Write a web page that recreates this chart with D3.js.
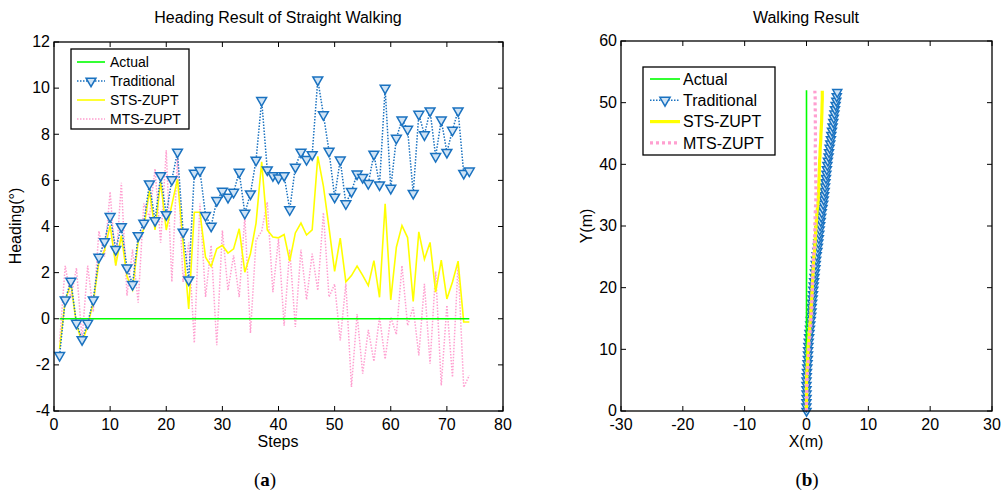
<!DOCTYPE html>
<html>
<head>
<meta charset="utf-8">
<script src="https://cdn.jsdelivr.net/npm/d3@7"></script>
<style>
  body { margin: 0; background: #fff; }
  svg { display: block; font-family: "Liberation Sans", Arial, sans-serif; }
</style>
</head>
<body>
<svg id="chart" width="1001" height="491"></svg>
<script>
// heading per step (degrees)
var steps = d3.range(1, 75);
var actualSteps = [1, 74];
var actualHeading = [0, 0];
var tradHeading = [-1.59,0.82,1.63,-0.19,-0.90,-0.19,0.82,2.67,3.35,4.44,
  3.01,4.00,2.21,1.49,3.61,4.15,5.85,4.26,6.21,4.52,
  6.03,7.23,3.76,1.69,6.32,6.43,4.48,4.02,5.13,5.53,
  5.27,5.49,6.36,4.58,5.42,6.88,9.47,6.46,6.21,6.11,
  6.21,4.73,6.58,7.23,6.91,7.12,10.36,8.85,7.27,5.28,
  6.89,4.99,5.52,6.28,6.13,5.87,7.14,5.81,10.00,5.66,
  7.83,8.62,8.22,5.44,8.87,7.98,9.02,7.04,8.62,7.22,
  8.18,9.02,6.31,6.41];
var stsHeading = [-1.30,0.79,1.52,-0.22,-1.05,-0.29,0.72,2.46,2.96,4.05,
  2.31,3.61,1.84,1.26,3.35,3.90,5.56,3.85,5.95,3.85,
  4.95,6.05,3.30,0.43,4.62,4.62,2.67,2.27,3.03,3.18,
  2.85,3.03,3.90,2.02,2.82,4.15,6.80,3.85,3.54,3.51,
  3.65,2.50,3.72,4.15,3.63,3.85,7.04,5.75,3.95,2.05,
  3.50,1.60,1.87,2.28,1.88,1.44,2.52,0.93,4.98,0.82,
  3.10,4.04,3.52,0.75,3.77,2.58,3.31,1.15,2.54,0.86,
  1.59,2.50,-0.14,-0.14];
var mtsHeading = [-1.00,2.30,0.90,2.20,-0.90,2.30,0.30,3.80,2.70,5.50,
  2.30,5.90,1.00,3.00,0.70,5.00,4.40,6.50,3.30,7.30,
  1.60,7.00,1.60,3.30,-1.05,5.00,0.94,3.18,-1.15,3.83,
  1.23,2.75,0.94,4.45,-0.62,3.40,3.80,5.06,1.15,3.47,
  -0.30,3.00,-0.35,3.00,0.83,2.82,1.23,4.60,0.94,1.50,
  -0.94,1.53,-2.96,0.20,-2.38,-0.48,-1.85,0.07,-1.75,0.07,
  -0.68,2.30,-0.29,0.50,-1.59,1.52,-1.95,2.05,-2.89,0.58,
  -2.53,2.38,-2.97,-2.45];

var xTicksA = [0, 10, 20, 30, 40, 50, 60, 70, 80];
var yTicksA = [-4, -2, 0, 2, 4, 6, 8, 10, 12];
var xTicksB = [-30, -20, -10, 0, 10, 20, 30];
var yTicksB = [0, 10, 20, 30, 40, 50, 60];

// walked distance along the corridor (m), panel (b)
var walkLength = 52;

var blue = "#1a72c0", blueFill = "#cfe3f5", green = "#00ff00", yellow = "#ffff00", pink = "#ff9fd0";

var svg = d3.select("#chart");

function frame(x, y, xTicks, yTicks) {
  var g = svg.append("g");
  var x0 = x.range()[0], x1 = x.range()[1], yb = y.range()[0], yt = y.range()[1];
  xTicks.forEach(function(t) {
    g.append("line").attr("x1", x(t)).attr("x2", x(t)).attr("y1", yb).attr("y2", yb - 5).attr("stroke", "#000");
    g.append("line").attr("x1", x(t)).attr("x2", x(t)).attr("y1", yt).attr("y2", yt + 5).attr("stroke", "#000");
    g.append("text").attr("x", x(t)).attr("y", yb + 19).attr("text-anchor", "middle")
      .attr("font-size", 16).text(t);
  });
  yTicks.forEach(function(t) {
    g.append("line").attr("x1", x0).attr("x2", x0 + 5).attr("y1", y(t)).attr("y2", y(t)).attr("stroke", "#000");
    g.append("line").attr("x1", x1).attr("x2", x1 - 5).attr("y1", y(t)).attr("y2", y(t)).attr("stroke", "#000");
    g.append("text").attr("x", x0 - 4).attr("y", y(t)).attr("dy", "0.33em").attr("text-anchor", "end")
      .attr("font-size", 16).text(t);
  });
  return g;
}

function box(x, y) {
  svg.append("rect").attr("x", x.range()[0]).attr("y", y.range()[1])
    .attr("width", x.range()[1] - x.range()[0]).attr("height", y.range()[0] - y.range()[1])
    .attr("fill", "none").attr("stroke", "#000").attr("stroke-width", 1.3);
}

var tri = function(size) { return d3.symbol(d3.symbolTriangle, size)(); };

function marker(g, px, py, size) {
  g.append("path").attr("d", tri(size))
    .attr("transform", "translate(" + px + "," + py + ") rotate(180)")
    .attr("fill", blueFill).attr("stroke", blue).attr("stroke-width", 1.5);
}

// ---------- panel (a) ----------
var xa = d3.scaleLinear().domain([0, 80]).range([54, 503]);
var ya = d3.scaleLinear().domain([-4, 12]).range([411, 42]);
frame(xa, ya, xTicksA, yTicksA);

var lineA = d3.line().x(function(d) { return xa(d[0]); }).y(function(d) { return ya(d[1]); });
var ga = svg.append("g");

ga.append("path").attr("d", lineA(d3.zip(steps, mtsHeading)))
  .attr("fill", "none").attr("stroke", pink).attr("stroke-width", 1.5).attr("stroke-dasharray", "1.5,1.5");
ga.append("path").attr("d", lineA(d3.zip(steps, stsHeading)))
  .attr("fill", "none").attr("stroke", yellow).attr("stroke-width", 1.6);
ga.append("path").attr("d", lineA(d3.zip(actualSteps, actualHeading)))
  .attr("fill", "none").attr("stroke", green).attr("stroke-width", 1.6);
ga.append("path").attr("d", lineA(d3.zip(steps, tradHeading)))
  .attr("fill", "none").attr("stroke", blue).attr("stroke-width", 1.5).attr("stroke-dasharray", "1.5,1.5");
steps.forEach(function(s, i) { marker(ga, xa(s), ya(tradHeading[i]), 42); });
box(xa, ya);

svg.append("text").attr("x", 278).attr("y", 23).attr("text-anchor", "middle").attr("font-size", 16)
  .text("Heading Result of Straight Walking");
svg.append("text").attr("x", 278).attr("y", 447).attr("text-anchor", "middle").attr("font-size", 16).text("Steps");
svg.append("text").attr("transform", "translate(21,226) rotate(-90)").attr("text-anchor", "middle")
  .attr("font-size", 16).text("Heading(°)");

// legend (a)
var la = svg.append("g");
la.append("rect").attr("x", 71).attr("y", 49).attr("width", 118).attr("height", 80)
  .attr("fill", "#fff").attr("stroke", "#000").attr("stroke-width", 1.3);
var legA = [
  { name: "Actual", color: green, dash: null, w: 1.6 },
  { name: "Traditional", color: blue, dash: "1.5,1.5", w: 1.5, mark: true },
  { name: "STS-ZUPT", color: yellow, dash: null, w: 1.6 },
  { name: "MTS-ZUPT", color: pink, dash: "1.5,1.5", w: 1.5 }
];
legA.forEach(function(d, i) {
  var yy = 62 + i * 19;
  la.append("line").attr("x1", 77).attr("x2", 105).attr("y1", yy).attr("y2", yy)
    .attr("stroke", d.color).attr("stroke-width", d.w).attr("stroke-dasharray", d.dash);
  if (d.mark) marker(la, 91, yy, 42);
  la.append("text").attr("x", 110).attr("y", yy).attr("dy", "0.35em").attr("font-size", 14).text(d.name);
});

svg.append("text").attr("x", 265).attr("y", 486).attr("text-anchor", "middle")
  .attr("font-family", "'Liberation Serif', serif").attr("font-size", 19)
  .html("(<tspan font-weight='bold'>a</tspan>)");

// ---------- panel (b) ----------
var xb = d3.scaleLinear().domain([-30, 30]).range([621, 992]);
var yb = d3.scaleLinear().domain([0, 60]).range([411, 41]);
frame(xb, yb, xTicksB, yTicksB);

// position rebuilt from the step headings of panel (a)
var stepLen = walkLength / steps.length;
function track(headings) {
  var px = 0, py = 0, pts = [[0, 0]];
  headings.forEach(function(h) {
    px += stepLen * Math.sin(h * Math.PI / 180);
    py += stepLen * Math.cos(h * Math.PI / 180);
    pts.push([px, py]);
  });
  return pts;
}
var lineB = d3.line().x(function(d) { return xb(d[0]); }).y(function(d) { return yb(d[1]); });
var gb = svg.append("g");
var tradTrack = track(tradHeading);

gb.append("path").attr("d", lineB(tradTrack))
  .attr("fill", "none").attr("stroke", blue).attr("stroke-width", 1.5).attr("stroke-dasharray", "1.5,1.5");
tradTrack.forEach(function(p) { marker(gb, xb(p[0]), yb(p[1]), 35); });
gb.append("path").attr("d", lineB([[0, 0], [0, walkLength]]))
  .attr("fill", "none").attr("stroke", green).attr("stroke-width", 1.6);
gb.append("path").attr("d", lineB(track(stsHeading)))
  .attr("fill", "none").attr("stroke", yellow).attr("stroke-width", 3.2);
gb.append("path").attr("d", lineB(track(mtsHeading)))
  .attr("fill", "none").attr("stroke", pink).attr("stroke-width", 3.2).attr("stroke-dasharray", "3,3");
box(xb, yb);

svg.append("text").attr("x", 806).attr("y", 23).attr("text-anchor", "middle").attr("font-size", 16).text("Walking Result");
svg.append("text").attr("x", 806).attr("y", 447).attr("text-anchor", "middle").attr("font-size", 16).text("X(m)");
svg.append("text").attr("transform", "translate(592,226) rotate(-90)").attr("text-anchor", "middle")
  .attr("font-size", 16).text("Y(m)");

var lb = svg.append("g");
lb.append("rect").attr("x", 643).attr("y", 67).attr("width", 132).attr("height", 88)
  .attr("fill", "#fff").attr("stroke", "#000").attr("stroke-width", 1.3);
var legB = [
  { name: "Actual", color: green, dash: null, w: 1.6 },
  { name: "Traditional", color: blue, dash: "1.5,1.5", w: 1.5, mark: true },
  { name: "STS-ZUPT", color: yellow, dash: null, w: 3.2 },
  { name: "MTS-ZUPT", color: pink, dash: "3,3", w: 3.2 }
];
legB.forEach(function(d, i) {
  var yy = 79 + i * 21.3;
  lb.append("line").attr("x1", 650).attr("x2", 680).attr("y1", yy).attr("y2", yy)
    .attr("stroke", d.color).attr("stroke-width", d.w).attr("stroke-dasharray", d.dash);
  if (d.mark) marker(lb, 665, yy, 45);
  lb.append("text").attr("x", 683).attr("y", yy).attr("dy", "0.35em").attr("font-size", 16).text(d.name);
});

svg.append("text").attr("x", 807).attr("y", 486).attr("text-anchor", "middle")
  .attr("font-family", "'Liberation Serif', serif").attr("font-size", 19)
  .html("(<tspan font-weight='bold'>b</tspan>)");
</script>
</body>
</html>
